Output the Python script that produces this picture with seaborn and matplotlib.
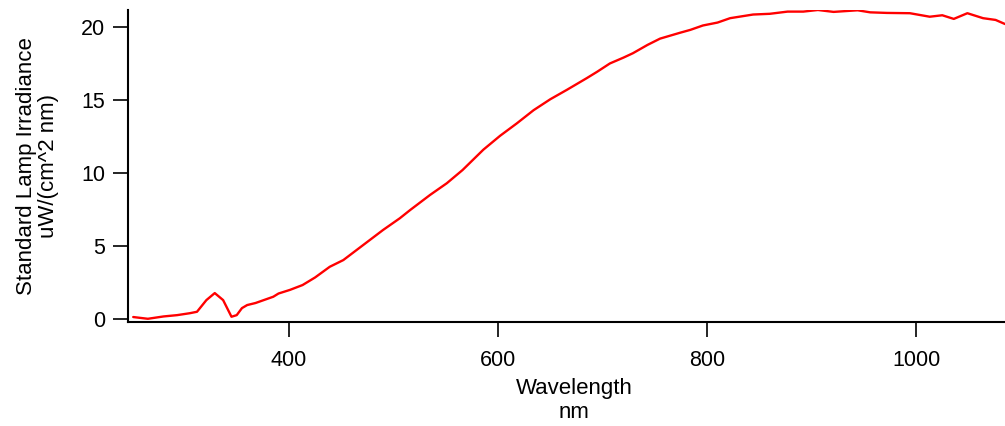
import matplotlib
matplotlib.use("Agg")
import matplotlib.pyplot as plt
import seaborn as sns
import pandas as pd

# Standard lamp spectral irradiance
wavelength = [251, 265, 280, 293, 305, 312, 321, 329, 337, 345, 350, 355, 360,
              368, 385, 390, 401, 413, 425, 439, 452, 471, 490, 506, 516, 535,
              551, 566, 586, 602, 618, 634, 650, 666, 685, 695, 707, 720, 729,
              743, 755, 774, 784, 796, 810, 822, 844, 860, 877, 892, 906, 921,
              944, 956, 972, 994, 1013, 1025, 1036, 1049, 1064, 1076, 1085]
irradiance = [0.14, 0.02, 0.18, 0.27, 0.40, 0.50, 1.30, 1.78, 1.30, 0.16, 0.27,
              0.75, 0.96, 1.10, 1.53, 1.75, 2.00, 2.33, 2.85, 3.58, 4.04, 5.07,
              6.10, 6.90, 7.47, 8.50, 9.30, 10.20, 11.60, 12.55, 13.40, 14.30,
              15.05, 15.70, 16.50, 16.94, 17.50, 17.90, 18.20, 18.77, 19.20,
              19.60, 19.80, 20.10, 20.30, 20.60, 20.85, 20.90, 21.05, 21.05,
              21.16, 21.03, 21.14, 21.00, 20.96, 20.94, 20.70, 20.80, 20.55,
              20.94, 20.60, 20.48, 20.20]

x_ticks = [400, 600, 800, 1000]
y_ticks = [0, 5, 10, 15, 20]

df = pd.DataFrame({"wavelength": wavelength, "irradiance": irradiance})

sns.set_style("white")
plt.rcParams["font.family"] = ["Liberation Sans", "DejaVu Sans"]

FS = 15.5
LFS = 16
W, H = 1005, 426
fig = plt.figure(figsize=(W / 100, H / 100), dpi=100)
ax = fig.add_axes([128 / W, (H - 322) / H, (W - 128) / W, (322 - 10) / H])

sns.lineplot(data=df, x="wavelength", y="irradiance", ax=ax,
             color="#ff0000", linewidth=1.7)

ax.set_xlim(246, 1085)
ax.set_ylim(-0.2, 21.16)
ax.set_xticks(x_ticks)
ax.set_yticks(y_ticks)

for side in ("top", "right"):
    ax.spines[side].set_visible(False)
for side in ("left", "bottom"):
    ax.spines[side].set_linewidth(1.5)
    ax.spines[side].set_color("black")

ax.tick_params(axis="both", which="major", direction="out", length=11,
               width=1.2, color="black", labelsize=FS, labelcolor="black",
               left=True, bottom=True)
ax.tick_params(axis="y", pad=5.5)
ax.tick_params(axis="x", pad=9.5)

ax.set_xlabel("Wavelength\nnm", fontsize=LFS, linespacing=1.2,
              color="black")
ax.xaxis.set_label_coords(0.509, -0.178)
ax.xaxis.label.set_verticalalignment("top")
ax.set_ylabel("Standard Lamp Irradiance\nuW/(cm^2 nm)", fontsize=LFS,
              labelpad=16, linespacing=1.05, color="black")

fig.savefig("out.png", dpi=100)
